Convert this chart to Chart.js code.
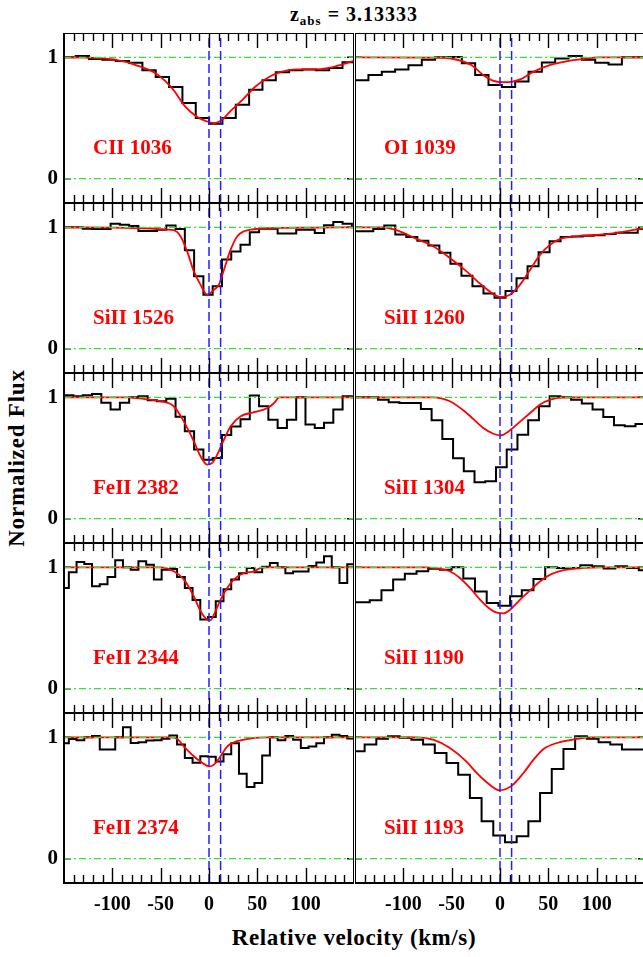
<!DOCTYPE html>
<html>
<head>
<meta charset="utf-8">
<script src="https://cdn.jsdelivr.net/npm/chart.js@4.4.1/dist/chart.umd.min.js"></script>
<style>
  body { margin: 0; background: #fff; }
  #wrap { position: relative; width: 643px; height: 957px; overflow: hidden; background: #fff;
          font-family: "Liberation Serif", "DejaVu Serif", serif; font-weight: bold; color: #000; }
  #wrap canvas { position: absolute; display: block; }
  .txt { position: absolute; white-space: nowrap; text-align: center; }
</style>
</head>
<body>
<div id="wrap">
  <div class="txt" id="title" style="left:204px;width:300px;top:0px;font-size:20px;line-height:28px;letter-spacing:1px;">z<sub style="font-size:13px;vertical-align:-4px;">abs</sub> = 3.13333</div>
  <div class="txt" id="ylab" style="left:-83px;width:200px;top:444px;font-size:23px;line-height:28px;letter-spacing:0.8px;transform:rotate(-90deg);">Normalized Flux</div>
  <div class="txt" id="xlab" style="left:204px;width:300px;top:924px;font-size:23px;line-height:28px;letter-spacing:0.6px;">Relative velocity (km/s)</div>
</div>
<script>
// --- axis ranges and ticks ---
const velMin = -150, velMax = 150;
const fluxMin = -0.2, fluxMax = 1.2;
const velTickLabels = [-100, -50, 0, 50, 100];
const fluxTickLabels = [0, 1];
const markerVel = [0, 12];           // blue dashed component markers

// --- CII 1036 ---
const velCII1036 = [-158.6, -144.8, -131.0, -117.2, -103.4, -89.6, -75.8, -62.0, -48.2, -34.4, -20.6, -6.8, 7.0, 20.8, 34.6, 48.4, 62.2, 76.0, 89.8, 103.6, 117.4, 131.2, 145.0, 158.8];
const fluxCII1036 = [1.0, 1.0, 1.01, 0.985, 0.98, 0.97, 0.955, 0.893, 0.838, 0.755, 0.623, 0.50, 0.453, 0.50, 0.61, 0.733, 0.81, 0.876, 0.893, 0.90, 0.893, 0.912, 0.959, 0.96];
const modelVelCII1036 = [-150, -118.5, -88.7, -71.7, -54.6, -37.6, -24.8, -12.1, -3.6, 5, 13.5, 22, 34.8, 47.5, 60.3, 73.1, 90.1, 107.2, 124.2, 137, 150];
const modelFluxCII1036 = [1.0, 0.995, 0.967, 0.925, 0.865, 0.74, 0.596, 0.508, 0.476, 0.458, 0.486, 0.555, 0.651, 0.755, 0.83, 0.876, 0.9, 0.9, 0.913, 0.94, 0.97];

// --- OI 1039 ---
const velOI1039 = [-156.8, -143.0, -129.2, -115.4, -101.6, -87.8, -74.0, -60.2, -46.4, -32.6, -18.8, -5.0, 8.8, 22.6, 36.4, 50.2, 64.0, 77.8, 91.6, 105.4, 119.2, 133.0, 146.8, 160.6];
const fluxOI1039 = [0.81, 0.81, 0.855, 0.88, 0.90, 0.935, 0.98, 1.0, 1.003, 0.95, 0.855, 0.772, 0.755, 0.80, 0.88, 0.957, 0.99, 1.01, 0.98, 0.955, 0.94, 1.0, 1.0, 1.0];
const modelVelOI1039 = [-150, -70, -50.7, -29.4, -16.7, -8.2, 2.4, 13.1, 21.7, 34.4, 51.5, 68.5, 85.5, 102.5, 150];
const modelFluxOI1039 = [1.0, 0.998, 0.99, 0.935, 0.85, 0.81, 0.795, 0.80, 0.82, 0.88, 0.935, 0.966, 0.985, 1.0, 1.0];

// --- SiII 1526 ---
const velSiII1526 = [-154.6, -145.0, -135.4, -125.8, -116.2, -106.6, -97.0, -87.4, -77.8, -68.2, -58.6, -49.0, -39.4, -29.8, -20.2, -10.6, -1.0, 8.6, 18.2, 27.8, 37.4, 47.0, 56.6, 66.2, 75.8, 85.4, 95.0, 104.6, 114.2, 123.8, 133.4, 143.0, 152.6];
const fluxSiII1526 = [1.0, 1.0, 1.0, 0.987, 0.985, 0.985, 1.03, 1.02, 1.01, 0.97, 0.97, 0.98, 1.015, 0.985, 0.81, 0.596, 0.445, 0.514, 0.734, 0.80, 0.857, 0.96, 0.987, 0.987, 0.948, 0.948, 0.98, 0.98, 0.953, 1.017, 1.044, 1.03, 1.0];
const modelVelSiII1526 = [-150, -100, -60, -43.4, -36.5, -29.5, -22.6, -15.7, -8.8, -1.9, 5.1, 10.3, 15.5, 22.4, 29.3, 36.2, 43.1, 53.5, 70.8, 110, 150];
const modelFluxSiII1526 = [1.0, 0.998, 0.99, 0.981, 0.976, 0.926, 0.802, 0.638, 0.528, 0.445, 0.486, 0.528, 0.651, 0.816, 0.926, 0.967, 0.981, 0.989, 0.995, 0.998, 1.0];

// --- SiII 1260 ---
const velSiII1260 = [-159.6, -148.2, -136.8, -125.4, -114.0, -102.6, -91.2, -79.8, -68.4, -57.0, -45.6, -34.2, -22.8, -11.4, 0, 11.4, 22.8, 34.2, 45.6, 57.0, 68.4, 79.8, 91.2, 102.6, 114.0, 125.4, 136.8, 148.2, 159.6];
const fluxSiII1260 = [0.967, 0.967, 0.967, 0.985, 1.014, 0.94, 0.92, 0.89, 0.85, 0.79, 0.70, 0.60, 0.515, 0.455, 0.42, 0.475, 0.58, 0.68, 0.795, 0.885, 0.92, 0.925, 0.93, 0.935, 0.945, 0.955, 0.955, 0.985, 0.99];
const modelVelSiII1260 = [-150, -121.1, -103.8, -86.5, -69.2, -51.9, -34.6, -17.3, 0.1, 10.4, 20.8, 31.2, 41.6, 52, 62.4, 79.7, 103.9, 121.2, 145.4, 150];
const modelFluxSiII1260 = [1.0, 1.0, 0.967, 0.904, 0.844, 0.747, 0.637, 0.514, 0.426, 0.445, 0.528, 0.651, 0.775, 0.857, 0.904, 0.926, 0.94, 0.954, 0.987, 0.99];

// --- FeII 2382 ---
const velFeII2382 = [-154.6, -145.0, -135.4, -125.8, -116.2, -106.6, -97.0, -87.4, -77.8, -68.2, -58.6, -49.0, -39.4, -29.8, -20.2, -10.6, -1.0, 8.6, 18.2, 27.8, 37.4, 47.0, 56.6, 66.2, 75.8, 85.4, 95.0, 104.6, 114.2, 123.8, 133.4, 143.0, 152.6];
const fluxFeII2382 = [1.017, 1.017, 1.008, 1.017, 1.028, 0.955, 0.90, 0.955, 1.0, 1.008, 0.975, 0.967, 0.987, 0.84, 0.72, 0.57, 0.486, 0.50, 0.69, 0.76, 0.82, 1.014, 0.926, 0.816, 0.747, 0.816, 1.0, 0.775, 0.747, 0.79, 0.90, 1.008, 1.0];
const modelVelFeII2382 = [-150, -84.9, -67.6, -50.3, -36.5, -26.1, -15.7, -8.8, -1.8, 3.3, 8.5, 15.5, 22.4, 32.8, 46.6, 60.5, 67.4, 72.6, 150];
const modelFluxFeII2382 = [1.0, 1.0, 0.987, 0.967, 0.926, 0.802, 0.638, 0.514, 0.445, 0.459, 0.528, 0.651, 0.761, 0.844, 0.877, 0.912, 0.953, 1.0, 1.0];

// --- SiII 1304 ---
const velSiII1304 = [-154.0, -142.9, -131.8, -120.7, -109.6, -98.5, -87.4, -76.3, -65.2, -54.1, -43.0, -31.9, -20.8, -9.7, 1.4, 12.5, 23.6, 34.7, 45.8, 56.9, 68.0, 79.1, 90.2, 101.3, 112.4, 123.5, 134.6, 145.7, 156.8];
const fluxSiII1304 = [1.0, 1.0, 1.0, 0.98, 0.96, 0.953, 0.953, 0.904, 0.81, 0.657, 0.497, 0.39, 0.30, 0.308, 0.423, 0.569, 0.692, 0.81, 0.926, 1.008, 1.0, 0.98, 0.948, 0.899, 0.838, 0.769, 0.761, 0.78, 0.78];
const modelVelSiII1304 = [-150, -69.2, -51.9, -34.6, -17.3, -6.9, 0.1, 10.4, 20.8, 31.2, 41.6, 52, 65.8, 150];
const modelFluxSiII1304 = [1.0, 1.0, 0.967, 0.871, 0.747, 0.70, 0.686, 0.728, 0.80, 0.871, 0.94, 0.98, 1.0, 1.0];

// --- FeII 2344 ---
const velFeII2344 = [-157, -149, -141, -133, -125, -117, -109, -101, -93, -85, -77, -69, -61, -53, -45, -37, -29, -21, -13, -5, 3, 11, 19, 27, 35, 43, 51, 59, 67, 75, 83, 91, 99, 107, 115, 123, 131, 139, 147, 155];
const fluxFeII2344 = [0.83, 0.83, 0.96, 1.044, 1.028, 0.844, 0.86, 0.92, 1.058, 1.0, 0.98, 1.05, 1.02, 0.9, 0.98, 0.985, 0.92, 0.83, 0.73, 0.57, 0.59, 0.72, 0.82, 0.9, 0.95, 0.995, 0.96, 1.005, 1.035, 1.0, 0.95, 0.965, 0.965, 1.01, 1.04, 1.09, 1.0, 0.87, 1.025, 1.0];
const modelVelFeII2344 = [-150, -50.3, -36.5, -26.1, -15.7, -8.8, -1.9, 1.6, 5.1, 12, 18.9, 25.8, 36.2, 46.6, 53.5, 60.5, 150];
const modelFluxFeII2344 = [1.0, 1.0, 0.967, 0.9, 0.76, 0.64, 0.57, 0.565, 0.61, 0.734, 0.83, 0.9, 0.953, 0.967, 0.995, 1.0, 1.0];

// --- SiII 1190 ---
const velSiII1190 = [-152.9, -140.8, -128.7, -116.6, -104.5, -92.4, -80.3, -68.2, -56.1, -44.0, -31.9, -19.8, -7.7, 4.4, 16.5, 28.6, 40.7, 52.8, 64.9, 77.0, 89.1, 101.2, 113.3, 125.4, 137.5, 149.6, 161.7];
const fluxSiII1190 = [0.712, 0.712, 0.728, 0.81, 0.9, 0.946, 0.967, 0.987, 0.98, 1.0, 0.907, 0.80, 0.706, 0.684, 0.761, 0.81, 0.904, 1.0, 0.995, 0.995, 1.017, 1.008, 0.99, 1.008, 0.995, 0.975, 0.975];
const modelVelSiII1190 = [-150, -76.1, -62.3, -51.9, -41.5, -31.1, -20.7, -10.4, -3.4, 3.5, 10.4, 20.8, 31.2, 41.6, 52, 65.8, 86.6, 103.9, 150];
const modelFluxSiII1190 = [1.0, 1.0, 0.987, 0.967, 0.912, 0.83, 0.734, 0.657, 0.626, 0.62, 0.65, 0.734, 0.81, 0.885, 0.94, 0.976, 0.995, 1.0, 1.0];

// --- FeII 2374 ---
const velFeII2374 = [-157, -149, -141, -133, -125, -117, -109, -101, -93, -85, -77, -69, -61, -53, -45, -37, -29, -21, -13, -5, 3, 11, 19, 27, 35, 43, 51, 59, 67, 75, 83, 91, 99, 107, 115, 123, 131, 139, 147, 155];
const fluxFeII2374 = [0.95, 0.95, 0.985, 0.976, 1.0, 1.01, 0.9, 0.9, 1.0, 1.083, 0.953, 0.96, 0.973, 0.975, 0.987, 1.015, 0.94, 0.83, 0.79, 0.844, 0.84, 0.80, 0.86, 0.95, 0.70, 0.59, 0.624, 0.85, 1.0, 0.976, 1.01, 0.98, 0.912, 0.925, 0.95, 1.0, 1.02, 1.01, 0.99, 1.0];
const modelVelFeII2374 = [-150, -39.9, -33, -26.1, -15.7, -8.8, -0.1, 5.1, 12, 18.9, 25.8, 36.2, 46.6, 60.5, 150];
const modelFluxFeII2374 = [1.0, 1.0, 0.987, 0.926, 0.844, 0.80, 0.761, 0.775, 0.844, 0.926, 0.959, 0.98, 0.995, 1.0, 1.0];

// --- SiII 1193 ---
const velSiII1193 = [-158.2, -146.1, -134.0, -121.9, -109.8, -97.7, -85.6, -73.5, -61.4, -49.3, -37.2, -25.1, -13.0, -0.9, 11.2, 23.3, 35.4, 47.5, 59.6, 71.7, 83.8, 95.9, 108.0, 120.1, 132.2, 144.3, 156.4];
const fluxSiII1193 = [0.885, 0.885, 0.94, 0.987, 1.008, 0.997, 0.98, 0.94, 0.871, 0.789, 0.692, 0.5, 0.308, 0.192, 0.135, 0.184, 0.308, 0.541, 0.739, 0.904, 1.008, 0.987, 0.96, 0.94, 0.9, 0.9, 0.9];
const modelVelSiII1193 = [-150, -86.5, -69.2, -51.9, -34.6, -24.2, -13.8, -0.6, 12.2, 24.3, 34.7, 45.1, 58.9, 79.7, 93.5, 150];
const modelFluxSiII1193 = [1.0, 1.0, 0.98, 0.912, 0.80, 0.706, 0.63, 0.563, 0.602, 0.706, 0.816, 0.904, 0.953, 0.987, 1.0, 1.0];

// panel order: row by row, left then right
const lineLabels = ['CII 1036', 'OI 1039', 'SiII 1526', 'SiII 1260', 'FeII 2382', 'SiII 1304', 'FeII 2344', 'SiII 1190', 'FeII 2374', 'SiII 1193'];
const panelVel = [velCII1036, velOI1039, velSiII1526, velSiII1260, velFeII2382, velSiII1304, velFeII2344, velSiII1190, velFeII2374, velSiII1193];
const panelFlux = [fluxCII1036, fluxOI1039, fluxSiII1526, fluxSiII1260, fluxFeII2382, fluxSiII1304, fluxFeII2344, fluxSiII1190, fluxFeII2374, fluxSiII1193];
const panelModelVel = [modelVelCII1036, modelVelOI1039, modelVelSiII1526, modelVelSiII1260, modelVelFeII2382, modelVelSiII1304, modelVelFeII2344, modelVelSiII1190, modelVelFeII2374, modelVelSiII1193];
const panelModelFlux = [modelFluxCII1036, modelFluxOI1039, modelFluxSiII1526, modelFluxSiII1260, modelFluxFeII2382, modelFluxSiII1304, modelFluxFeII2344, modelFluxSiII1190, modelFluxFeII2374, modelFluxSiII1193];

const SERIF = '"Liberation Serif", "DejaVu Serif", serif';

// Рамка и засечки внутрь панели (как в IDL)
const framePlugin = {
  id: 'frame',
  beforeDatasetsDraw(chart) {
    const { ctx, chartArea: a, scales: { y } } = chart;
    ctx.save();
    ctx.strokeStyle = '#000';
    ctx.lineWidth = 1.5;
    ctx.beginPath();
    fluxTickLabels.forEach(f => {
      const py = y.getPixelForValue(f);
      ctx.moveTo(a.left, py); ctx.lineTo(a.left + 7, py);
      ctx.moveTo(a.right, py); ctx.lineTo(a.right - 7, py);
    });
    ctx.stroke();
    ctx.restore();
  },
  afterDatasetsDraw(chart) {
    const { ctx, chartArea: a, scales: { x } } = chart;
    ctx.save();
    ctx.strokeStyle = '#000';
    ctx.lineWidth = 1.4;
    ctx.beginPath();
    for (let v = velMin + 10; v < velMax; v += 10) {
      const px = Math.round(x.getPixelForValue(v)) + 0.5;
      const len = v % 50 === 0 ? 15 : 8;
      ctx.moveTo(px, a.top); ctx.lineTo(px, a.top + len);
      ctx.moveTo(px, a.bottom); ctx.lineTo(px, a.bottom - len);
    }
    ctx.stroke();
    ctx.lineWidth = 2;
    ctx.strokeRect(a.left, a.top, a.right - a.left, a.bottom - a.top);
    ctx.restore();
  }
};

// Подпись линии (красная)
const labelPlugin = {
  id: 'lineLabel',
  afterDatasetsDraw(chart, args, opts) {
    const { ctx, scales: { x, y } } = chart;
    ctx.save();
    ctx.fillStyle = '#ff0000';
    ctx.font = 'bold 21px ' + SERIF;
    ctx.textBaseline = 'alphabetic';
    ctx.textAlign = 'left';
    ctx.fillText(opts.text, x.getPixelForValue(-120), y.getPixelForValue(0.2));
    ctx.restore();
  }
};

const refLine = (pts, color, dash, width) => ({
  data: pts, borderColor: color, borderDash: dash, borderWidth: width,
  pointRadius: 0, tension: 0, clip: 0
});

const wrap = document.getElementById('wrap');

lineLabels.forEach((label, i) => {
  const col = i % 2, row = Math.floor(i / 2);
  const isLeft = col === 0, isBottom = row === 4;
  const w = isLeft ? 354 : 290;
  const h = isBottom ? 220 : 170;

  const cv = document.createElement('canvas');
  cv.width = w; cv.height = h;
  cv.style.left = (isLeft ? 0 : 355) + 'px';
  cv.style.top = (33 + 170 * row) + 'px';
  cv.style.width = w + 'px';
  cv.style.height = h + 'px';
  wrap.appendChild(cv);

  const spectrum = panelVel[i].map((v, k) => ({ x: v, y: panelFlux[i][k] }));
  const model = panelModelVel[i].map((v, k) => ({ x: v, y: panelModelFlux[i][k] }));

  new Chart(cv, {
    type: 'line',
    data: {
      datasets: [
        ...markerVel.map(v => refLine([{ x: v, y: fluxMin }, { x: v, y: fluxMax }], '#2020ff', [9, 4], 1.5)),
        ...fluxTickLabels.map(f => refLine([{ x: velMin, y: f }, { x: velMax, y: f }], '#3cdc3c', [7, 3, 2, 3], 1.2)),
        { data: model, borderColor: '#ff0000', borderWidth: 1.8, pointRadius: 0,
          cubicInterpolationMode: 'monotone', clip: 0 },
        { data: spectrum, borderColor: '#000', borderWidth: 2, pointRadius: 0,
          stepped: 'middle', clip: 0 }
      ]
    },
    options: {
      responsive: false,
      animation: false,
      events: [],
      layout: { padding: 0, autoPadding: false },
      plugins: {
        legend: { display: false },
        tooltip: { enabled: false },
        lineLabel: { text: label }
      },
      scales: {
        x: {
          type: 'linear', min: velMin, max: velMax,
          display: isBottom,
          grid: { display: false, drawTicks: false },
          border: { display: false },
          afterBuildTicks: s => { s.ticks = velTickLabels.map(v => ({ value: v })); },
          afterFit: s => {
            if (!isBottom) return;
            s.height = 50; s.paddingLeft = 0; s.paddingRight = 0;
          },
          ticks: { color: '#000', padding: 10, maxRotation: 0, autoSkip: false,
                   font: { family: SERIF, size: 20, weight: 'bold' } }
        },
        y: {
          type: 'linear', min: fluxMin, max: fluxMax,
          display: isLeft,
          grid: { display: false, drawTicks: false },
          border: { display: false },
          afterBuildTicks: s => { s.ticks = fluxTickLabels.map(v => ({ value: v })); },
          afterFit: s => {
            if (!isLeft) return;
            s.width = 64; s.paddingTop = 0; s.paddingBottom = 0;
          },
          ticks: { color: '#000', padding: 6,
                   font: { family: SERIF, size: 21, weight: 'bold' } }
        }
      }
    },
    plugins: [framePlugin, labelPlugin]
  });
});
</script>
</body>
</html>
